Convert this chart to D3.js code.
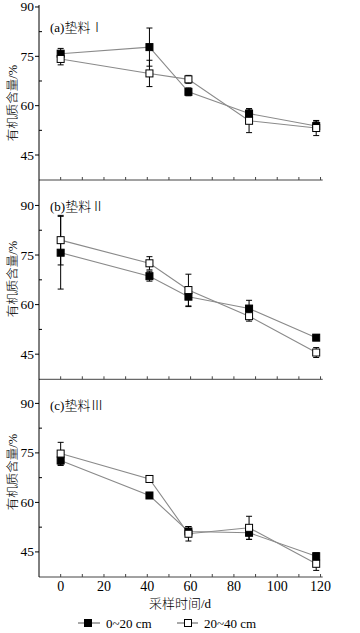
<!DOCTYPE html>
<html><head><meta charset="utf-8">
<script src="https://cdn.jsdelivr.net/npm/d3@7"></script>
<style>body{margin:0;background:#fff}svg{display:block}</style>
</head><body>
<script>
// ---- data ----
const days = [0, 41, 59, 87, 118];
const seriesNames = ["0~20 cm", "20~40 cm"];
const panelTitles = ["(a)垫料Ⅰ", "(b)垫料Ⅱ", "(c)垫料Ⅲ"];
// panel a
const a_0_20 = [75.8, 77.8, 64.2, 57.6, 53.8];
const a_0_20_err = [1.6, 5.8, 1.2, 1.5, 1.5];
const a_20_40 = [74.2, 69.8, 68.0, 55.4, 53.2];
const a_20_40_err = [1.8, 4.0, 1.2, 3.6, 2.3];
// panel b
const b_0_20 = [75.7, 68.6, 62.4, 58.8, 50.0];
const b_0_20_err = [11.0, 1.5, 3.0, 2.5, 0.8];
const b_20_40 = [79.5, 72.5, 64.4, 56.5, 45.5];
const b_20_40_err = [7.5, 2.0, 4.8, 1.5, 1.5];
// panel c
const c_0_20 = [72.7, 62.1, 51.2, 50.8, 43.7];
const c_0_20_err = [1.5, 0.8, 1.5, 2.0, 1.0];
const c_20_40 = [74.8, 67.1, 50.5, 52.3, 41.4];
const c_20_40_err = [3.4, 1.0, 2.2, 3.5, 2.0];
const yMajor = [45, 60, 75, 90];
const yMinor = [52.5, 67.5, 82.5];
const xTickLabels = [0, 20, 40, 60, 80, 100, 120];
const xMinor = [0,10,20,30,40,50,60,70,80,90,100,110,120];
const yLabel = "有机质含量/%";
const xLabel = "采样时间/d";

// ---- layout ----
const W = 360, H = 633;
const axisX = 39;
const panels = [
  {s0: a_0_20, e0: a_0_20_err, s1: a_20_40, e1: a_20_40_err, range: [180, 5], domain: [37.4, 90.6], titleY: 32, labelY: 103},
  {s0: b_0_20, e0: b_0_20_err, s1: b_20_40, e1: b_20_40_err, range: [379.3, 180], domain: [37.4, 97.7], titleY: 211, labelY: 279},
  {s0: c_0_20, e0: c_0_20_err, s1: c_20_40, e1: c_20_40_err, range: [577, 379.3], domain: [37.4, 97.3], titleY: 410, labelY: 472}
];
const serif = "'Liberation Serif','Times New Roman',serif";
const cjk = "'Liberation Serif','Noto Sans CJK SC',serif";

const svg = d3.select("body").append("svg").attr("width", W).attr("height", H);
const x = d3.scaleLinear().domain([-10, 121]).range([axisX, 322.7]);

panels.forEach((p, pi) => {
  const y = d3.scaleLinear().domain(p.domain).range(p.range);
  const g = svg.append("g");
  g.append("line").attr("x1", axisX).attr("x2", x(121)).attr("y1", p.range[0]).attr("y2", p.range[0])
    .attr("stroke", "#444").attr("stroke-width", 1);
  g.selectAll(".xt").data(xMinor).enter().append("line")
    .attr("x1", d => x(d)).attr("x2", d => x(d)).attr("y1", p.range[0]).attr("y2", p.range[0] - 3)
    .attr("stroke", "#444");
  g.selectAll(".ymaj").data(yMajor).enter().append("line")
    .attr("x1", axisX - 4).attr("x2", axisX).attr("y1", d => y(d)).attr("y2", d => y(d)).attr("stroke", "#000");
  g.selectAll(".ymin").data(yMinor).enter().append("line")
    .attr("x1", axisX).attr("x2", axisX + 3).attr("y1", d => y(d)).attr("y2", d => y(d)).attr("stroke", "#000");
  g.selectAll(".ylab").data(yMajor).enter().append("text")
    .attr("x", axisX - 5).attr("y", d => y(d) + 4.5).attr("text-anchor", "end")
    .attr("font-family", serif).attr("font-size", 13.5).text(d => d);
  g.append("text").attr("transform", `translate(17,${p.labelY}) rotate(-90)`)
    .attr("text-anchor", "middle").attr("font-family", cjk).attr("font-weight", 300).attr("font-size", 12.5).text(yLabel);
  g.append("text").attr("x", 50).attr("y", p.titleY).attr("font-family", cjk).attr("font-weight", 300).attr("font-size", 13).text(panelTitles[pi]);

  const line = d3.line().x((d, i) => x(days[i])).y(d => y(d));
  [p.s0, p.s1].forEach(s => {
    g.append("path").attr("d", line(s)).attr("fill", "none").attr("stroke", "#8a8a8a").attr("stroke-width", 1.1);
  });
  [[p.s0, p.e0], [p.s1, p.e1]].forEach(([s, e]) => {
    s.forEach((v, i) => {
      const cx = x(days[i]);
      g.append("line").attr("x1", cx).attr("x2", cx).attr("y1", y(v - e[i])).attr("y2", y(v + e[i])).attr("stroke", "#000");
      [v - e[i], v + e[i]].forEach(t => g.append("line").attr("x1", cx - 3).attr("x2", cx + 3)
        .attr("y1", y(t)).attr("y2", y(t)).attr("stroke", "#000"));
    });
  });
  [[p.s0, "#000"], [p.s1, "#fff"]].forEach(([s, fill]) => {
    g.selectAll(null).data(s).enter().append("rect")
      .attr("x", (d, i) => x(days[i]) - 3.5).attr("y", d => y(d) - 3.5)
      .attr("width", 7).attr("height", 7).attr("fill", fill).attr("stroke", "#000").attr("stroke-width", 1);
  });
});

svg.append("line").attr("x1", axisX).attr("x2", axisX).attr("y1", 5).attr("y2", 577).attr("stroke", "#000");
svg.selectAll(".xl").data(xTickLabels).enter().append("text")
  .attr("x", d => x(d)).attr("y", 591).attr("text-anchor", "middle")
  .attr("font-family", serif).attr("font-size", 14).text(d => d);
svg.append("text").attr("x", 180).attr("y", 608).attr("text-anchor", "middle")
  .attr("font-family", cjk).attr("font-weight", 300).attr("font-size", 13).text(xLabel);

const legendPos = [{x1: 78, x2: 100, m: 88, t: 106, fill: "#000"}, {x1: 177, x2: 198, m: 188, t: 204, fill: "#fff"}];
const ly = 623;
legendPos.forEach((l, i) => {
  svg.append("line").attr("x1", l.x1).attr("x2", l.x2).attr("y1", ly).attr("y2", ly).attr("stroke", "#555");
  svg.append("rect").attr("x", l.m - 3.5).attr("y", ly - 3.5).attr("width", 7).attr("height", 7)
    .attr("fill", l.fill).attr("stroke", "#000");
  svg.append("text").attr("x", l.t).attr("y", ly + 4.5).attr("font-family", serif).attr("font-size", 13).text(seriesNames[i]);
});
</script>
</body></html>
